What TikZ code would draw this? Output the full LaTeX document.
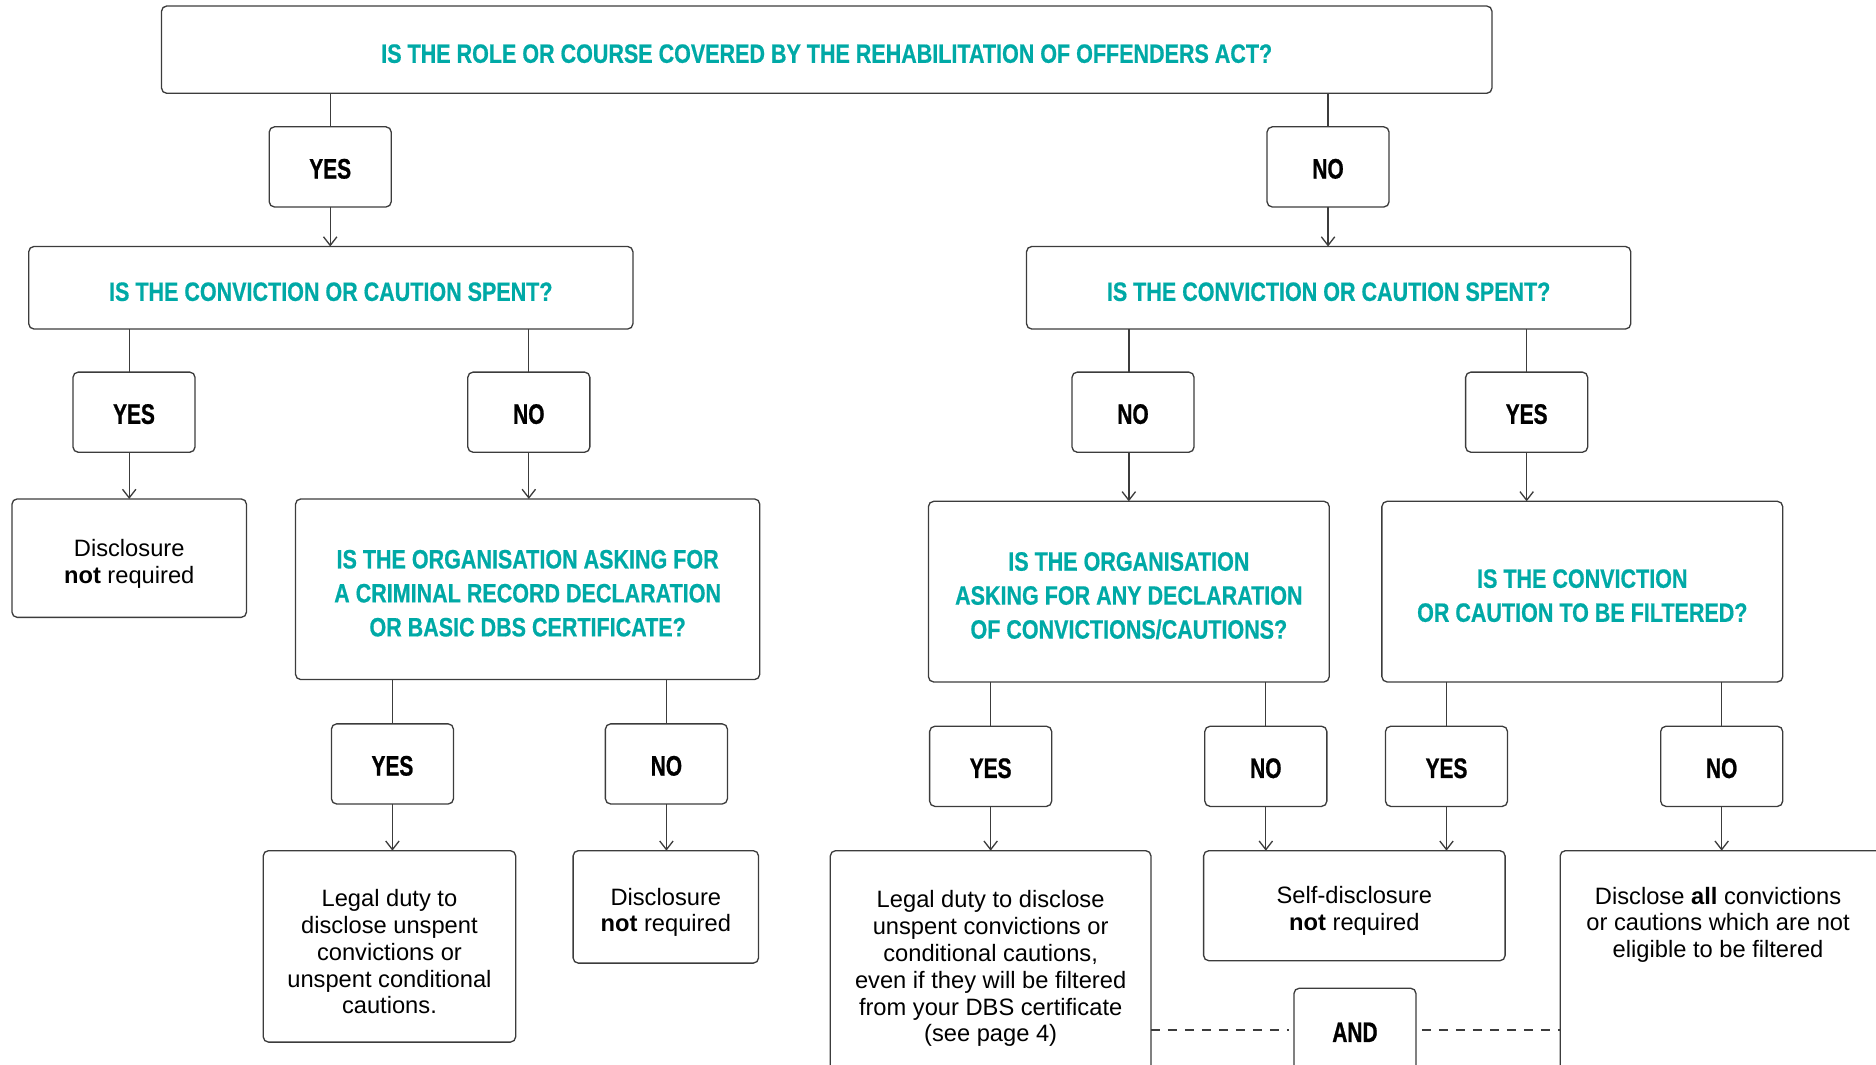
\documentclass[tikz,border=0pt]{standalone}
\usepackage{fontspec}
\setmainfont{Liberation Sans}
\newfontfamily\headfont[FakeStretch=0.81,FakeBold=0.6]{Liberation Sans}
\newfontfamily\answerfont[FakeStretch=0.74,FakeBold=0.8]{Liberation Sans}
\usetikzlibrary{arrows.meta}
\definecolor{teal}{RGB}{0,169,166}
\definecolor{rule}{RGB}{60,60,60}
% invisible struts opening the first line, to lower a node's text block
\newcommand\qstrut{\rule{0pt}{11.1pt}}
\newcommand\ostrut{\rule{0pt}{11.8pt}}

\begin{document}
\begin{tikzpicture}[x=0.5pt,y=-0.5pt,
  box/.style={draw=rule,line width=0.55pt,rounded corners=2.2pt,inner sep=0pt,outer sep=0pt,align=center},
  question/.style={box,text=teal,font=\headfont\bfseries\fontsize{11.1}{14.2}\selectfont},
  answer/.style={box,minimum width=51pt,minimum height=33.5pt,font=\answerfont\bfseries\fontsize{11.8}{14}\selectfont,
    execute at begin node={\rule{0pt}{9.85pt}}},
  outcome/.style={box,font=\fontsize{9.9}{11.2}\selectfont},
  link/.style={draw=rule,line width=0.55pt},
  arrow/.style={link,-{Straight Barb[length=3.6pt,width=5.6pt,line width=0.55pt]}},
  andlink/.style={link,dash pattern=on 3.8pt off 3.3pt}]
\useasboundingbox (0,0) rectangle (1568,890);
\clip (0,0) rectangle (1568,890);

% first question
\node[question,minimum width=556pt,minimum height=36.5pt] (top) at (691,41.5)
  {\qstrut IS THE ROLE OR COURSE COVERED BY THE REHABILITATION OF OFFENDERS ACT?};
\node[answer] (yes1) at (276,139.5) {YES};
\node[answer] (no1) at (1110,139.5) {NO};

% is it spent?
\node[question,minimum width=252.5pt,minimum height=34.5pt] (q2l) at (276.5,240.5)
  {\qstrut IS THE CONVICTION OR CAUTION SPENT?};
\node[question,minimum width=252.5pt,minimum height=34.5pt] (q2r) at (1110.5,240.5)
  {\qstrut IS THE CONVICTION OR CAUTION SPENT?};
\node[answer] (yes2) at (112,344.5) {YES};
\node[answer] (no2) at (442,344.5) {NO};
\node[answer] (no4) at (947,344.5) {NO};
\node[answer] (yes4) at (1276,344.5) {YES};

% third row
\node[outcome,minimum width=98pt,minimum height=49.5pt] (d1) at (108,466.5)
  {\ostrut Disclosure\\\textbf{not} required};
\node[question,minimum width=194pt,minimum height=75.5pt] (q3l) at (441,492.5)
  {\qstrut IS THE ORGANISATION ASKING FOR\\A CRIMINAL RECORD DECLARATION\\OR BASIC DBS CERTIFICATE?};
\node[question,minimum width=167.5pt,minimum height=75.5pt] (q3m) at (943.5,494.5)
  {\qstrut IS THE ORGANISATION\\ASKING FOR ANY DECLARATION\\OF CONVICTIONS/CAUTIONS?};
\node[question,minimum width=167.5pt,minimum height=75.5pt] (q3r) at (1322.5,494.5)
  {\qstrut IS THE CONVICTION\\OR CAUTION TO BE FILTERED?};

% answers to the third row
\node[answer] (yes3) at (328,638.5) {YES};
\node[answer] (no3) at (557,638.5) {NO};
\node[answer] (yes5) at (828,640.5) {YES};
\node[answer] (no5) at (1058,640.5) {NO};
\node[answer] (yes6) at (1209,640.5) {YES};
\node[answer] (no6) at (1439,640.5) {NO};

% outcomes
\node[outcome,minimum width=105.5pt,minimum height=80pt] (l1) at (325.5,791)
  {\ostrut Legal duty to\\disclose unspent\\convictions or\\unspent conditional\\cautions.};
\node[outcome,minimum width=77.5pt,minimum height=47pt] (d2) at (556.5,758)
  {\ostrut Disclosure\\\textbf{not} required};
\node[outcome,minimum width=134pt,minimum height=94pt] (l2) at (828,805)
  {\ostrut Legal duty to disclose\\unspent convictions or\\conditional cautions,\\even if they will be filtered\\from your DBS certificate\\(see page 4)};
\node[outcome,minimum width=126pt,minimum height=46pt] (s) at (1132,757)
  {\ostrut Self-disclosure\\\textbf{not} required};
\node[box,minimum width=138pt,minimum height=124.5pt] (a) at (1442,835.5) {};
\node[outcome,draw=none,anchor=north] (atext) at (1436,732)
  {\ostrut Disclose \textbf{all} convictions\\or cautions which are not\\eligible to be filtered};
\node[answer,minimum height=35pt] (and) at (1132.5,861) {AND};

% connectors
\path[link] (yes1.north |- top.south) -- (yes1.north);
\path[arrow] (yes1.south) -- (yes1.south |- q2l.north);
\path[link] (no1.north |- top.south) -- (no1.north);
\path[arrow] (no1.south) -- (no1.south |- q2r.north);

\path[link] (d1.north |- q2l.south) -- (d1.north |- yes2.north);
\path[arrow] (d1.north |- yes2.south) -- (d1.north);
\path[link] (no2.north |- q2l.south) -- (no2.north);
\path[arrow] (no2.south) -- (no2.south |- q3l.north);

\path[link] (q3m.north |- q2r.south) -- (q3m.north |- no4.north);
\path[arrow] (q3m.north |- no4.south) -- (q3m.north);
\path[link] (yes4.north |- q2r.south) -- (yes4.north);
\path[arrow] (yes4.south) -- (yes4.south |- q3r.north);

\path[link] (yes3.north |- q3l.south) -- (yes3.north);
\path[arrow] (yes3.south) -- (yes3.south |- l1.north);
\path[link] (no3.north |- q3l.south) -- (no3.north);
\path[arrow] (no3.south) -- (no3.south |- d2.north);

\path[link] (yes5.north |- q3m.south) -- (yes5.north);
\path[arrow] (yes5.south) -- (yes5.south |- l2.north);
\path[link] (no5.north |- q3m.south) -- (no5.north);
\path[arrow] (no5.south) -- (no5.south |- s.north);

\path[link] (yes6.north |- q3r.south) -- (yes6.north);
\path[arrow] (yes6.south) -- (yes6.south |- s.north);
\path[link] (no6.north |- q3r.south) -- (no6.north);
\path[arrow] (no6.south) -- (no6.south |- a.north);

\path[andlink] (l2.east |- and.west) -- ([xshift=-2pt]and.west);
\path[andlink] ([xshift=2.5pt]and.east) -- (a.west |- and.east);
\end{tikzpicture}
\end{document}
